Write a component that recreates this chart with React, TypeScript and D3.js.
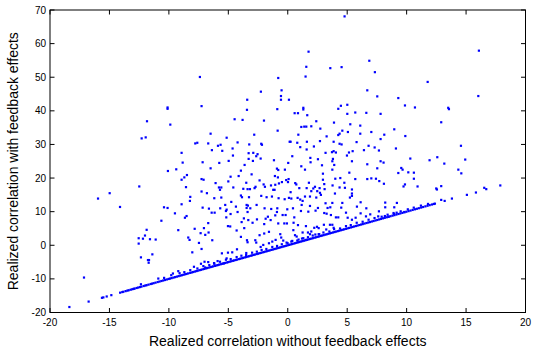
import React from "react";
import * as d3 from "d3";

const xTicks = [-20, -15, -10, -5, 0, 5, 10, 15, 20];
const yTicks = [-20, -10, 0, 10, 20, 30, 40, 50, 60, 70];
const xLabel = "Realized correlation without feedback effects";
const yLabel = "Realized correlation with feedback effects";

// points clearly above the diagonal: [without, with]
const scatterAbove: [number, number][] = [
  [-7.39, 50.07], [-0.8, 49.77], [-0.52, 46.1], [-2.26, 45.7], [-0.57, 44.4], [-3.41, 43.3], [-0.57, 43.3], [0.1, 43.3], [-7.25, 41.4], [-10.11, 41.0],
  [4.78, 68.1], [1.75, 57.6], [1.56, 53.1], [3.58, 52.7], [4.53, 53.0], [6.86, 54.9], [1.5, 50.2], [7.33, 51.5], [6.69, 46.1], [7.53, 44.3],
  [9.3, 43.8], [4.47, 41.5], [5.01, 41.8], [9.86, 41.6], [1.31, 40.9], [10.7, 41.0],
  [16.08, 57.9], [11.77, 48.6], [16.03, 44.4], [13.5, 40.9],
  [-11.84, 36.9], [-12.29, 31.8], [-11.95, 32.1], [-12.49, 17.5], [-14.98, 15.5], [-15.96, 13.9], [-14.11, 11.4], [-10.41, 11.3],
  [-10.11, 40.6], [-3.43, 40.3], [-0.88, 40.5], [-9.88, 35.9], [-4.47, 37.5], [-3.8, 37.3], [-2.0, 37.1], [-0.85, 34.1], [-6.49, 33.2], [-5.14, 32.0],
  [-2.82, 32.9], [-7.78, 30.3], [-7.61, 30.5], [-6.69, 30.3], [-5.87, 29.6], [-5.65, 29.9], [-4.22, 30.6], [-3.24, 30.0], [-2.23, 30.2], [-2.17, 29.9],
  [0.16, 30.8], [-6.38, 28.3], [-5.51, 28.1], [-4.64, 28.8], [-8.93, 27.5], [-3.29, 27.4], [-2.9, 27.5], [-2.54, 27.1], [-2.65, 26.5], [-4.61, 26.7],
  [-3.29, 25.7], [-2.28, 25.8], [-2.93, 25.1], [-7.16, 24.7], [-5.76, 24.5], [-4.97, 25.1], [-8.84, 24.6], [-1.16, 25.3], [-3.63, 23.9], [0.04, 24.5],
  [-6.49, 22.9], [-3.94, 22.2], [-0.91, 22.8], [-0.8, 22.4], [-0.24, 22.5], [-10.08, 22.1], [-9.38, 22.6], [-8.48, 20.9], [-8.7, 20.2], [-8.93, 19.5],
  [-4.13, 20.6], [-4.81, 20.4], [-3.04, 21.1], [-1.08, 20.6], [-0.83, 20.2], [-0.13, 19.4], [0.07, 19.7], [-7.25, 19.7], [-7.08, 19.5], [-6.07, 18.5],
  [-5.0, 19.0], [-3.49, 18.6], [-2.37, 19.3], [-2.03, 18.1], [-1.92, 17.4], [-1.41, 17.8], [-1.05, 18.0], [-0.74, 18.4], [-0.49, 18.8], [0.02, 18.8],
  [-8.56, 17.3], [-5.79, 17.2], [-5.59, 17.2], [-5.7, 16.5], [-4.58, 17.2], [-3.74, 16.8], [-3.38, 16.7], [-3.18, 16.7], [-2.71, 17.4], [-2.79, 17.0],
  [-1.22, 16.5], [-1.11, 16.5], [-7.25, 16.0], [-6.8, 15.5], [-3.94, 14.8], [-3.85, 14.3], [-3.26, 14.3], [-2.23, 14.7], [-1.78, 14.3], [-1.33, 14.5],
  [-0.77, 14.0], [-0.26, 13.7], [0.1, 14.1], [-8.2, 14.4], [-8.23, 13.2], [-6.18, 14.0], [-5.59, 14.2], [-4.75, 12.9], [-8.93, 12.2], [-5.26, 12.0],
  [-3.46, 12.0], [-3.35, 11.8], [-2.62, 12.0], [-7.16, 11.2], [-6.63, 10.9], [-5.68, 11.0], [-5.14, 10.6], [-4.36, 11.5], [-3.46, 11.1], [-3.15, 11.0],
  [-1.95, 11.0], [-1.39, 10.8], [-0.88, 11.0], [-0.04, 10.7], [-10.11, 11.1],
  [0.58, 39.3], [0.86, 39.3], [1.31, 40.4], [1.64, 38.7], [4.25, 40.6], [5.01, 39.1], [5.68, 39.5], [6.61, 39.4], [7.81, 39.1], [2.4, 36.9],
  [3.89, 36.5], [5.26, 36.0], [6.1, 35.6], [1.14, 35.2], [1.39, 35.3], [1.56, 35.3], [1.98, 35.4], [2.74, 34.7], [8.96, 34.5], [4.59, 34.1],
  [4.36, 33.2], [4.25, 32.8], [5.06, 33.7], [6.1, 33.2], [7.03, 33.7], [0.89, 32.9], [3.27, 32.4], [8.12, 32.9], [9.89, 32.5], [7.81, 31.6],
  [0.24, 30.8], [0.8, 30.5], [1.61, 30.8], [2.71, 31.0], [3.86, 30.8], [4.36, 30.2], [4.53, 30.0], [5.79, 30.7], [2.2, 29.4], [1.05, 29.2],
  [6.8, 29.6], [7.31, 29.1], [7.67, 28.2], [6.41, 28.3], [9.1, 28.8], [1.59, 28.5], [3.18, 27.5], [3.72, 27.7], [3.86, 28.0], [4.05, 27.6],
  [5.46, 28.0], [5.15, 27.6], [4.98, 26.7], [0.38, 26.5], [2.54, 25.6], [1.9, 26.0], [3.8, 25.7], [3.75, 25.0], [5.4, 25.0], [7.81, 25.0],
  [8.06, 24.6], [10.31, 25.8], [1.92, 24.7], [3.91, 23.9], [1.14, 23.5], [2.88, 23.8], [6.69, 24.1], [7.53, 22.9], [9.55, 23.0], [9.66, 22.5],
  [1.45, 22.5], [3.75, 22.5], [10.14, 21.7], [10.61, 21.6], [2.96, 21.3], [5.18, 21.6], [9.3, 21.5], [4.0, 19.8], [4.42, 20.0], [5.68, 19.7],
  [6.69, 19.7], [7.03, 19.9], [7.42, 19.8], [7.7, 19.1], [10.61, 19.8], [2.96, 19.5], [0.63, 18.5], [0.72, 18.1], [1.78, 18.6], [3.07, 18.2],
  [4.76, 18.6], [8.09, 18.3], [9.86, 18.1], [9.74, 17.5], [3.77, 17.8], [0.97, 17.0], [1.59, 17.0], [2.15, 16.9], [2.29, 17.4], [2.68, 17.0],
  [3.1, 16.7], [4.36, 17.2], [4.81, 17.1], [5.4, 16.6], [0.24, 15.8], [1.98, 16.1], [2.48, 16.1], [2.71, 15.6], [2.79, 15.0], [3.97, 15.4],
  [5.4, 15.4], [5.4, 14.7], [1.87, 14.5], [0.83, 14.1], [1.25, 13.2], [1.45, 14.5], [2.4, 14.2], [5.23, 14.2], [0.3, 13.9], [1.05, 13.6],
  [3.18, 12.5], [3.75, 12.6], [4.59, 12.6], [6.13, 12.8], [8.2, 12.7], [9.18, 12.6], [1.17, 12.0], [1.87, 11.7], [2.54, 11.1], [3.58, 11.3],
  [4.5, 11.2], [5.82, 11.5], [6.61, 11.0], [8.2, 11.3], [8.96, 11.3], [0.44, 11.0], [3.35, 11.1],
  [13.56, 40.5], [12.91, 36.6], [14.57, 29.6], [11.93, 25.3], [12.58, 26.2], [14.93, 25.5], [13.17, 24.3], [14.35, 22.5], [14.6, 21.4],
  [10.92, 17.5], [12.49, 16.9], [12.55, 16.6], [12.91, 17.6], [16.53, 17.1], [16.7, 16.7], [17.88, 17.8], [15.83, 15.7], [15.07, 15.0],
  [13.81, 13.9], [13.2, 13.2], [12.91, 13.5],
  [-10.63, 7.3], [-11.87, 4.6], [-12.54, 2.1], [-12.54, 0.5], [-12.18, 1.96], [-12.01, 2.9], [-11.59, 1.8], [-11.11, 1.7], [-12.35, -3.6],
  [-11.39, -2.7], [-11.76, -4.4], [-11.67, -4.4], [-11.7, -5.2], [-17.14, -9.6],
  [-9.49, 9.5], [-8.65, 8.2], [-8.51, 8.7], [-6.4, 9.7], [-6.15, 9.7], [-5.2, 10.2], [-4.81, 9.3], [-5.17, 8.3], [-4.22, 9.9], [-3.38, 9.9],
  [-3.69, 8.0], [-3.88, 6.9], [-3.32, 7.5], [-2.96, 6.7], [-2.59, 7.7], [-1.86, 7.9], [-1.67, 8.5], [-1.44, 7.5], [-1.98, 6.3], [-1.05, 8.9],
  [-0.91, 9.9], [-0.43, 9.0], [-0.18, 9.0], [-0.8, 6.5], [-0.29, 6.5], [-0.07, 6.5], [-9.21, 4.5], [-7.83, 4.9], [-7.05, 5.1], [-6.69, 6.6],
  [-7.33, 3.6], [-6.94, 3.1], [-6.66, 3.8], [-5.03, 5.7], [-4.84, 5.6], [-4.3, 4.4], [-3.66, 5.1], [-8.37, 2.3], [-8.26, 1.6], [-6.35, 1.5],
  [-3.94, 2.5], [-3.43, 1.5], [-3.38, 0.9], [-2.73, 1.5], [-2.65, 0.8], [-2.37, 3.0], [-1.98, 3.5], [-2.06, 0.1], [-2.28, -0.5], [-1.58, 4.0],
  [-1.58, 0.6], [-0.63, 3.3], [-0.55, 2.3], [-0.38, 1.4], [-1.02, 1.6], [-1.3, 1.1], [-0.01, 0.6], [-7.47, 0.7], [-7.25, -1.1], [-8.03, -2.1],
  [-5.03, -2.2], [-4.67, -2.1], [-5.54, -2.4], [-4.27, -1.2], [-3.49, -2.3], [-7.3, -5.5], [-7.0, -4.9], [-6.69, -5.0], [-6.18, -5.5], [-5.9, -4.7],
  [-5.14, -3.9], [-5.4, -5.4], [-7.89, -6.4], [-6.94, -6.6], [-9.21, -7.7], [-9.66, -8.4],
  [0.55, 8.3], [0.49, 6.7], [1.11, 10.2], [1.73, 10.0], [2.34, 10.3], [3.07, 9.6], [3.27, 9.4], [3.63, 9.0], [4.05, 8.3], [4.25, 8.3],
  [4.9, 9.7], [5.04, 8.2], [5.4, 7.6], [5.71, 8.2], [6.13, 9.5], [6.58, 8.6], [7.67, 10.1], [7.61, 8.6], [8.17, 8.7], [8.48, 8.5],
  [8.93, 9.3], [9.16, 9.7], [9.8, 9.9], [0.86, 6.0], [1.25, 3.8], [1.53, 5.7], [1.7, 3.8], [1.98, 4.1], [1.87, 3.3], [2.23, 5.2],
  [2.46, 5.5], [2.6, 5.1], [3.04, 6.1], [3.55, 6.1], [3.75, 6.1], [3.86, 5.2], [3.24, 4.7], [2.32, 3.2], [2.65, 3.3], [0.47, 4.5],
  [0.61, 3.0], [1.31, 2.1], [0.91, 1.7], [0.75, 2.6], [0.38, 1.3], [1.53, 1.6], [6.94, 9.2],
];

// points lying just above the diagonal (thickening the band)
const nearDiagonal: [number, number][] = [
  [-12.35, -11.6], [-10.89, -9.9], [-10.4, -9.7], [-9.8, -8.9], [-9.1, -8.3], [-8.7, -8.0], [-8.2, -7.4], [-7.6, -6.9], [-7.1, -6.2], [-6.6, -5.9],
  [-6.2, -5.3], [-5.7, -4.9], [-5.2, -4.3], [-4.8, -4.1], [-4.3, -3.5], [-3.9, -3.1], [-3.5, -2.9], [-3.0, -2.2], [-2.6, -1.9], [-2.2, -1.4],
  [-1.8, -1.1], [-1.3, -0.5], [-0.9, -0.2], [-0.5, 0.3], [-0.1, 0.8], [0.3, 1.1], [0.8, 1.4], [1.2, 2.0], [1.7, 2.4], [2.1, 2.9],
  [2.6, 3.3], [3.0, 3.8], [3.5, 4.1], [3.9, 4.8], [4.4, 5.0], [4.9, 5.7], [5.3, 6.0], [5.8, 6.7], [6.3, 7.0], [6.8, 7.6],
  [7.3, 8.1], [7.9, 8.5], [8.4, 9.1], [8.9, 9.6], [9.5, 10.1], [10.1, 10.7], [10.6, 11.2], [11.2, 11.8], [11.8, 12.3],
];

// cases where feedback had no effect (with == without)
const diagonalX: number[] = [
  -18.37, -16.75, -15.63, -15.51, -15.23, -14.84, -14.1, -13.92, -13.83, -13.64, -13.49, -13.38, -13.21, -13.07, -12.96, -12.88, -12.71, -12.58,
  -12.43, -12.31, -12.12, -11.98, -11.87, -11.71, -11.53, -11.42, -11.28, -11.12, -10.94, -10.79, -10.63, -10.48, -10.33, -10.17, -10.02, -9.91,
  -9.77, -9.62, -9.48, -9.33, -9.18, -9.04, -8.91, -8.77, -8.63, -8.52, -8.38, -8.21, -8.09, -7.96, -7.82, -7.69, -7.58, -7.43, -7.31, -7.17,
  -7.04, -6.92, -6.79, -6.66, -6.52, -6.41, -6.28, -6.13, -6.01, -5.89, -5.77, -5.63, -5.51, -5.38, -5.27, -5.13, -5.02, -4.89, -4.76, -4.62,
  -4.51, -4.38, -4.27, -4.12, -4.01, -3.88, -3.77, -3.63, -3.51, -3.39, -3.26, -3.12, -3.01, -2.88, -2.77, -2.62, -2.51, -2.38, -2.27, -2.13,
  -2.01, -1.88, -1.76, -1.63, -1.52, -1.38, -1.26, -1.13, -1.02, -0.89, -0.77, -0.64, -0.52, -0.38, -0.27, -0.14, -0.02, 0.11, 0.23, 0.36,
  0.48, 0.61, 0.73, 0.87, 0.98, 1.12, 1.24, 1.37, 1.49, 1.62, 1.74, 1.88, 1.99, 2.12, 2.26, 2.38, 2.51, 2.63, 2.77, 2.89, 3.02, 3.16,
  3.28, 3.41, 3.55, 3.67, 3.81, 3.94, 4.07, 4.21, 4.33, 4.48, 4.61, 4.74, 4.89, 5.02, 5.16, 5.31, 5.44, 5.58, 5.73, 5.87, 6.02, 6.17,
  6.31, 6.46, 6.62, 6.77, 6.91, 7.07, 7.22, 7.38, 7.53, 7.69, 7.84, 8.01, 8.16, 8.33, 8.48, 8.64, 8.81, 8.97, 9.14, 9.31, 9.47, 9.64,
  9.82, 9.98, 10.16, 10.33, 10.51, 10.7, 10.86, 11.03, 11.22, 11.39, 11.58, 11.76, 11.94, 12.13, 12.29, 12.38,
];

export default function App() {
  const W = 533;
  const H = 349;
  const x = d3.scaleLinear().domain([-20, 20]).range([50, 525.5]);
  const y = d3.scaleLinear().domain([-20, 70]).range([312.5, 10]);
  const [x0, x1] = x.range();
  const [y0, y1] = y.range();
  const all: [number, number][] = [
    ...diagonalX.map((v) => [v, v] as [number, number]),
    ...nearDiagonal,
    ...scatterAbove,
  ];
  const ms = 2.2;
  const font = "'Liberation Sans', Arial, Helvetica, sans-serif";
  return (
    <svg
      width={W}
      height={H}
      viewBox={`0 0 ${W} ${H}`}
      style={{ position: "absolute", left: 0, top: 0, background: "#fff" }}
    >
      <rect x={0} y={0} width={W} height={H} fill="#fff" />
      <g>
        {all.map((d, i) => (
          <rect
            key={i}
            x={x(d[0]) - ms / 2}
            y={y(d[1]) - ms / 2}
            width={ms}
            height={ms}
            fill="#0000ff"
          />
        ))}
      </g>
      <rect x={x0} y={y1} width={x1 - x0} height={y0 - y1} fill="none" stroke="#000" strokeWidth={1} />
      {xTicks.map((t) => (
        <g key={"xt" + t}>
          <line x1={x(t)} x2={x(t)} y1={y0} y2={y0 - 4.5} stroke="#000" strokeWidth={1} />
          <line x1={x(t)} x2={x(t)} y1={y1} y2={y1 + 4.5} stroke="#000" strokeWidth={1} />
          <text x={x(t)} y={y0 + 13} textAnchor="middle" fontFamily={font} fontSize={10} fill="#000">
            {t}
          </text>
        </g>
      ))}
      {yTicks.map((t) => (
        <g key={"yt" + t}>
          <line x1={x0} x2={x0 + 4.5} y1={y(t)} y2={y(t)} stroke="#000" strokeWidth={1} />
          <line x1={x1} x2={x1 - 4.5} y1={y(t)} y2={y(t)} stroke="#000" strokeWidth={1} />
          <text x={x0 - 4} y={y(t) + 3.5} textAnchor="end" fontFamily={font} fontSize={10} fill="#000">
            {t}
          </text>
        </g>
      ))}
      <text x={(x0 + x1) / 2} y={346} textAnchor="middle" fontFamily={font} fontSize={14} fill="#000">
        {xLabel}
      </text>
      <text
        transform={`translate(18, ${(y0 + y1) / 2}) rotate(-90)`}
        textAnchor="middle"
        fontFamily={font}
        fontSize={14}
        fill="#000"
      >
        {yLabel}
      </text>
    </svg>
  );
}
